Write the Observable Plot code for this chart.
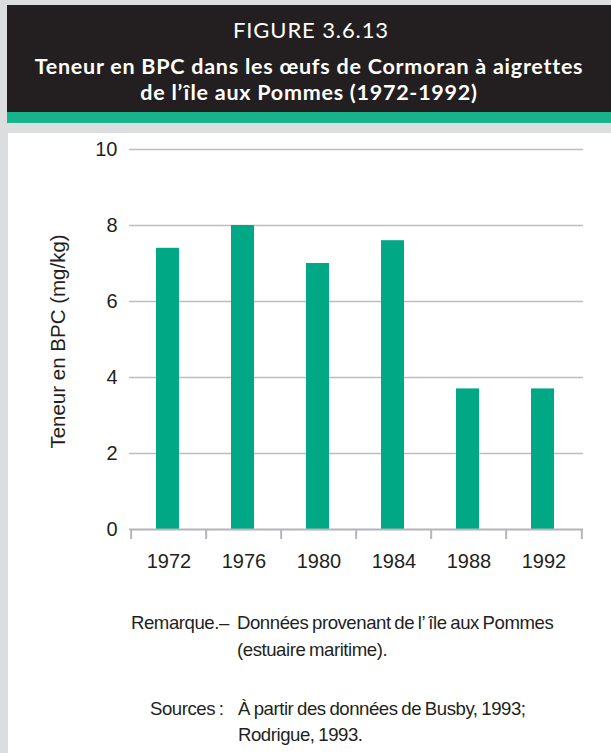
<!DOCTYPE html>
<html>
<head>
<meta charset="utf-8">
<script src="https://cdn.jsdelivr.net/npm/d3@7"></script>
<script src="https://cdn.jsdelivr.net/npm/@observablehq/plot@0.6"></script>
<style>
  html, body { margin: 0; padding: 0; }
  body { width: 611px; height: 753px; background: #dcdddf; position: relative; overflow: hidden; font-family: "Liberation Sans", Arial, sans-serif; }
  #header { position: absolute; left: 7px; top: 5px; width: 604px; height: 107px; background: #231f20; color: #fff; font-family: Lato, "Open Sans", sans-serif; text-align: center; }
  .hl { position: absolute; left: 0; right: 0; white-space: nowrap; }
  #fig { top: 13px; font-size: 22px; line-height: 24px; letter-spacing: 0.9px; padding-left: 4px; }
  .sub { font-size: 21.5px; font-weight: bold; line-height: 24px; letter-spacing: 0.75px; }
  #stripe { position: absolute; left: 7px; top: 112px; width: 604px; height: 11px; background: #17b48c; }
  #panel { position: absolute; left: 8px; top: 133px; width: 603px; height: 620px; background: #fff; }
  #chart { position: absolute; left: 0; top: 133px; }
  .note { position: absolute; font-size: 18.6px; color: #231f20; letter-spacing: -0.45px; word-spacing: -1px; white-space: nowrap; line-height: 20px; }
</style>
</head>
<body>
<div id="header">
  <div id="fig" class="hl">FIGURE 3.6.13</div>
  <div class="hl sub" style="top:49px;">Teneur en BPC dans les œufs de Cormoran à aigrettes</div>
  <div class="hl sub" style="top:75px;">de l’île aux Pommes (1972-1992)</div>
</div>
<div id="stripe"></div>
<div id="panel"></div>
<div id="chart"></div>
<div class="note" style="left:131px; top:613px;">Remarque.–</div>
<div class="note" style="left:237px; top:613px;">Données provenant de l’ île aux Pommes</div>
<div class="note" style="left:237px; top:640px;">(estuaire maritime).</div>
<div class="note" style="left:150px; top:699px;">Sources :</div>
<div class="note" style="left:238px; top:699px;">À partir des données de Busby, 1993;</div>
<div class="note" style="left:238px; top:725px;">Rodrigue, 1993.</div>
<script>
const years = ["1972", "1976", "1980", "1984", "1988", "1992"];
const values = [7.4, 8.0, 7.0, 7.6, 3.7, 3.7];
const yTicks = [0, 2, 4, 6, 8, 10];
const gridTicks = [2, 4, 6, 8, 10];
const yLabel = "Teneur en BPC (mg/kg)";

const data = years.map((y, i) => ({year: y, value: values[i]}));

const W = 611, ML = 129, MR = 28;
const bw = (W - ML - MR) / years.length;

const chart = Plot.plot({
  width: W,
  height: 460,
  marginLeft: ML,
  marginRight: MR,
  marginTop: 16,
  marginBottom: 64,
  style: {fontFamily: "Liberation Sans, Arial, sans-serif", fontSize: "20px", color: "#231f20", background: "transparent"},
  x: {type: "band", domain: years, padding: 0},
  y: {domain: [0, 10]},
  marks: [
    Plot.gridY(gridTicks, {stroke: "#bdbdbd", strokeOpacity: 1, strokeWidth: 1.6}),
    Plot.barY(data, {x: "year", y: "value", fill: "#00a886", insetLeft: 25, insetRight: 27}),
    Plot.ruleY([0], {stroke: "#b4b4bb", strokeWidth: 2}),
    Plot.ruleX(years, {x: d => d, y1: 0, y2: 0, insetBottom: -10, dx: -bw / 2, stroke: "#b4b4bb", strokeWidth: 2}),
    Plot.ruleX(years.slice(-1), {x: d => d, y1: 0, y2: 0, insetBottom: -10, dx: bw / 2, stroke: "#b4b4bb", strokeWidth: 2}),
    Plot.axisY(yTicks, {tickSize: 0, tickPadding: 12, label: null, fontSize: 20, fill: "#231f20"}),
    Plot.axisX({tickSize: 0, tickPadding: 24, label: null, fontSize: 20, fill: "#231f20"}),
    Plot.text([yLabel], {frameAnchor: "left", rotate: -90, dx: -65, dy: 2, lineAnchor: "bottom", textAnchor: "middle", fontSize: 20.5, fill: "#231f20"})
  ]
});
document.getElementById("chart").appendChild(chart);
</script>
</body>
</html>
